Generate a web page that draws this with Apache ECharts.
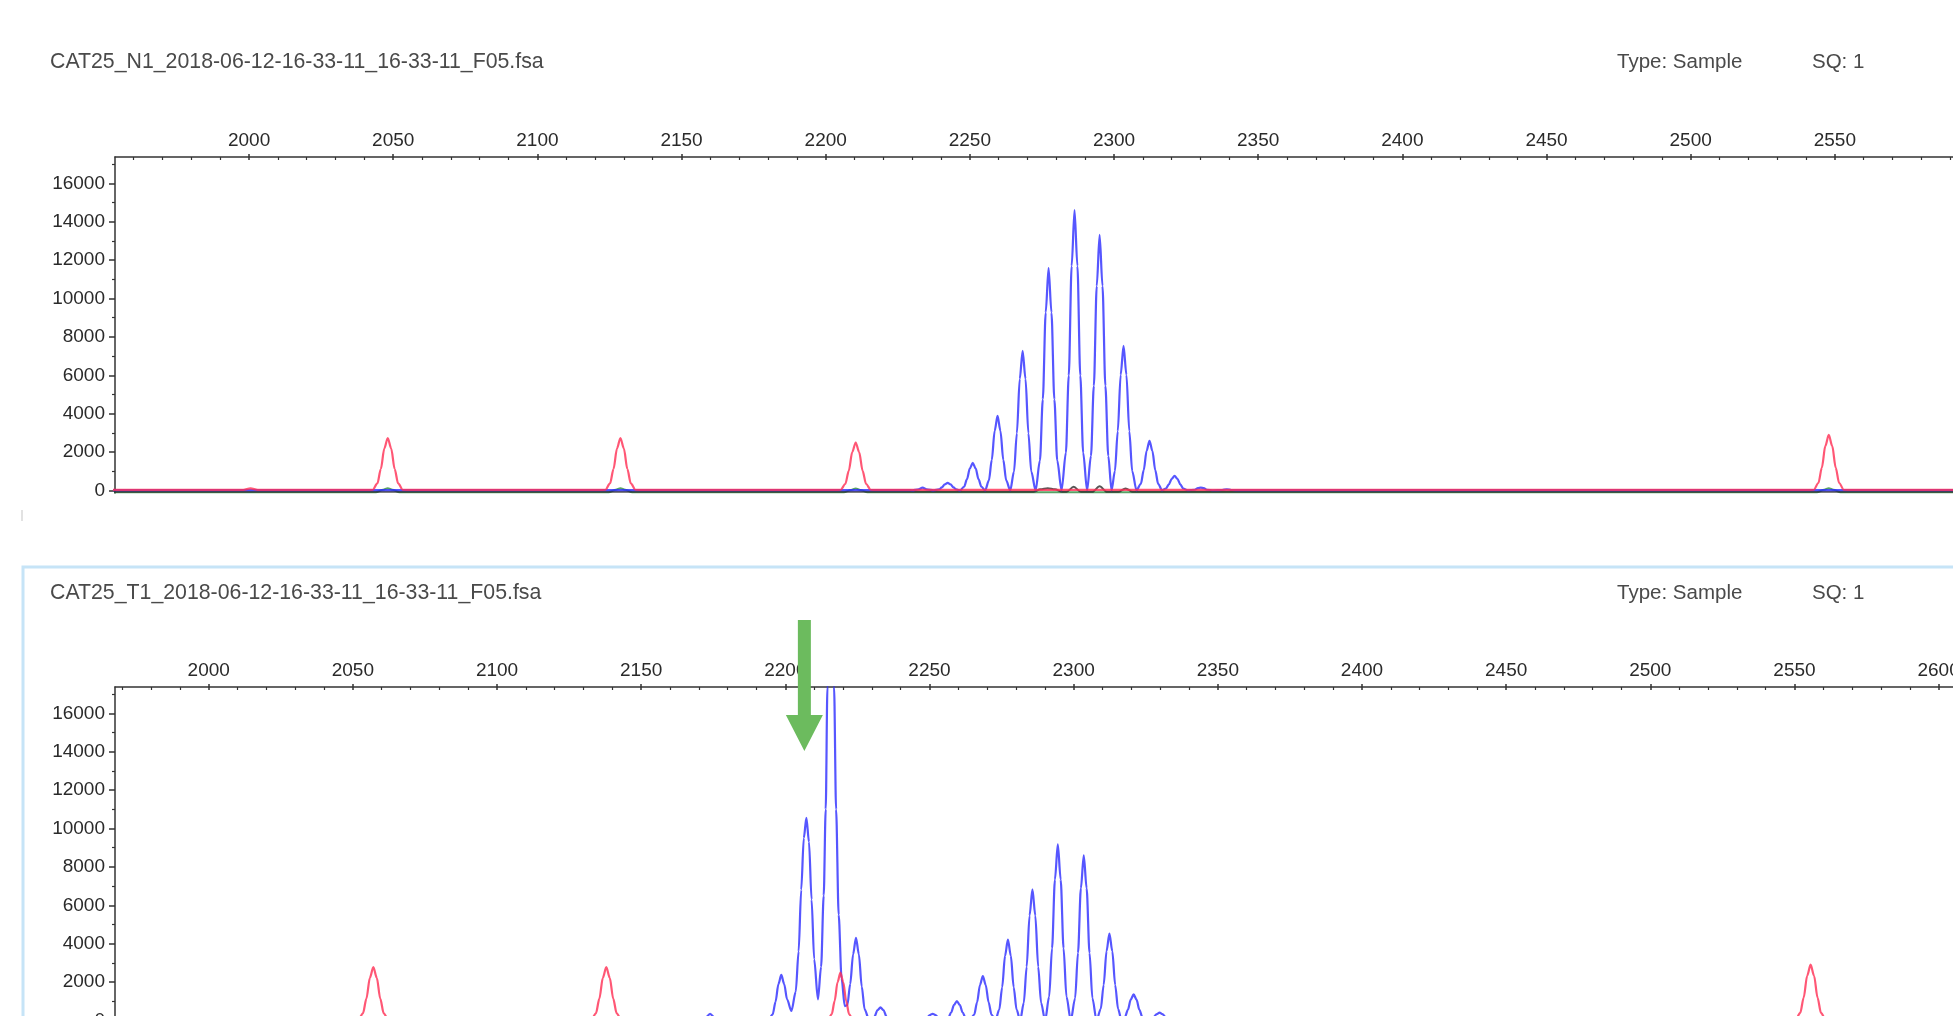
<!DOCTYPE html>
<html><head><meta charset="utf-8">
<script src="https://cdn.jsdelivr.net/npm/echarts@6/dist/echarts.min.js"></script>
<style>html,body{margin:0;padding:0;background:#fff;overflow:hidden}#c{width:1953px;height:1016px}</style>
</head><body><div id="c"></div><script>
// ---------- texts ----------
const topTitle = 'CAT25_N1_2018-06-12-16-33-11_16-33-11_F05.fsa';
const bottomTitle = 'CAT25_T1_2018-06-12-16-33-11_16-33-11_F05.fsa';
const typeText = 'Type: Sample';
const sqText = 'SQ: 1';

// ---------- tick values ----------
const xMajorTicks = [2000,2050,2100,2150,2200,2250,2300,2350,2400,2450,2500,2550,2600,2650];
const xLabelTicks = [2000,2050,2100,2150,2200,2250,2300,2350,2400,2450,2500,2550,2600];
const xMinorTicks = [1960,1970,1980,1990,2010,2020,2030,2040,2060,2070,2080,2090,2110,2120,2130,2140,2160,2170,2180,2190,2210,2220,2230,2240,2260,2270,2280,2290,2310,2320,2330,2340,2360,2370,2380,2390,2410,2420,2430,2440,2460,2470,2480,2490,2510,2520,2530,2540,2560,2570,2580,2590,2610,2620,2630,2640,2660];
const yMajorTicks = [0,2000,4000,6000,8000,10000,12000,14000,16000];
const yMinorTicks = [1000,3000,5000,7000,9000,11000,13000,15000,17000];

// ---------- N1 panel traces [size, RFU] ----------
const n1Blue = [[1950,25],[2228.5,20],
 [2230,10],[2232.2,60],[2233.6,150],[2235,60],[2237.5,10],
 [2239.3,55],[2240.3,165],[2241.3,320],[2242.3,400],[2243.3,320],[2244.3,165],[2245.3,55],[2246.6,5],
 [2248.0,195],[2249.0,590],[2250.0,1150],[2251.0,1440],[2252.0,1150],[2253.0,590],[2254.0,195],[2255.3,8],
 [2256.6,525],[2257.6,1595],[2258.6,3110],[2259.6,3890],[2260.6,3110],[2261.6,1595],[2262.6,525],[2264.0,10],
 [2265.3,980],[2266.3,2980],[2267.3,5815],[2268.3,7270],[2269.3,5815],[2270.3,2980],[2271.3,980],[2272.8,10],
 [2274.3,1565],[2275.3,4750],[2276.3,9270],[2277.3,11590],[2278.3,9270],[2279.3,4750],[2280.3,1565],[2281.8,10],
 [2283.3,1970],[2284.3,5990],[2285.3,11690],[2286.3,14610],[2287.3,11690],[2288.3,5990],[2289.3,1970],[2290.65,10],
 [2292.0,1800],[2293.0,5455],[2294.0,10650],[2295.0,13310],[2296.0,10650],[2297.0,5455],[2298.0,1800],[2299.15,10],
 [2300.3,1015],[2301.3,3090],[2302.3,6025],[2303.3,7530],[2304.3,6025],[2305.3,3090],[2306.3,1015],[2307.8,10],
 [2309.3,350],[2310.3,1060],[2311.3,2070],[2312.3,2590],[2313.3,2070],[2314.3,1060],[2315.3,350],[2316.65,10],
 [2318.0,105],[2319.0,315],[2320.0,610],[2321.0,765],[2322.0,610],[2323.0,315],[2324.0,105],[2325.5,12],
 [2328,40],[2329.1,120],[2330.1,150],[2331.1,120],[2332.2,40],[2334.5,12],
 [2337.5,25],[2339.1,60],[2340.7,25],[2344,15],[2660,15]];
const n1Red = [[1950,30],[1998,30],[2000.5,110],[2003,30],[2041,30],
 [2042.9,40],[2044.5,370],[2045.7,1120],[2046.9,2185],[2048.1,2730],[2049.3,2185],[2050.5,1120],[2051.7,370],[2053.3,40],[2056,30],[2121.5,30],
 [2123.6,40],[2125.2,370],[2126.4,1120],[2127.6,2185],[2128.8,2730],[2130.0,2185],[2131.2,1120],[2132.4,370],[2134.0,40],[2137,30],[2203,30],
 [2205.2,40],[2206.8,340],[2208.0,1025],[2209.2,2000],[2210.4,2500],[2211.6,2000],[2212.8,1025],[2214.0,340],[2215.6,40],[2218,30],[2540.5,30],
 [2542.7,40],[2544.3,390],[2545.5,1190],[2546.7,2320],[2547.9,2900],[2549.1,2320],[2550.3,1190],[2551.5,390],[2553.1,40],[2556,30],[2660,30]];
const n1Green = [[1950,-90],[2044,-90],[2046.5,40],[2048.1,120],[2049.7,40],[2052.2,-90],[2124.7,-90],[2127.2,40],[2128.8,120],[2130.4,40],[2132.9,-90],
 [2206.3,-90],[2208.8,30],[2210.4,100],[2212,30],[2214.5,-90],[2543.8,-90],[2546.3,40],[2547.9,120],[2549.5,40],[2552,-90],[2660,-90]];
const n1Black = [[1950,-70],[2272,-70],[2274.5,60],[2277,120],[2279.5,60],[2282,-70],[2283.5,-70],[2286,190],[2288.5,-70],
 [2292.5,-70],[2295,220],[2297.5,-70],[2301.5,-70],[2304,110],[2306.5,-70],[2660,-70]];

// ---------- T1 panel traces [size, RFU] ----------
const t1Blue = [[1960,30],[2171,30],
 [2172.2,120],[2173.9,350],[2175.6,120],[2177.5,35],[2180.5,50],[2182,130],[2183.5,50],[2188.5,40],[2190,100],[2191.5,40],[2194.2,60],
 [2195.6,320],[2196.6,975],[2197.6,1900],[2198.6,2380],[2199.6,1900],[2200.6,1100],[2202.1,495],
 [2203.6,1500],[2204.6,3600],[2205.5,6800],[2206.4,9500],[2207.3,10560],[2208.2,9300],[2209.1,6300],[2210.0,3200],[2211.3,1100],
 [2212.4,2800],[2213.3,6500],[2214.0,11000],[2214.6,17370],[2215.8,22500],[2216.9,17370],[2217.6,11000],[2218.5,5500],[2219.5,2200],[2220.6,750],
 [2221.5,800],[2222.5,1900],[2223.5,3450],[2224.5,4310],[2225.5,3450],[2226.5,1770],[2227.5,580],[2229.0,60],
 [2230.8,180],[2232.0,545],[2233.0,680],[2234.0,545],[2235.2,180],[2237.2,30],
 [2240,40],[2241.7,150],[2243.4,40],[2247.8,20],
 [2249.1,145],[2250.1,280],[2251.1,350],[2252.1,280],[2253.1,145],[2255.0,15],
 [2256.5,135],[2257.5,415],[2258.5,810],[2259.5,1010],[2260.5,810],[2261.5,415],[2262.5,135],[2264.0,10],
 [2265.5,310],[2266.5,945],[2267.5,1850],[2268.5,2310],[2269.5,1850],[2270.5,945],[2271.5,310],[2272.85,10],
 [2274.2,570],[2275.2,1730],[2276.2,3375],[2277.2,4220],[2278.2,3375],[2279.2,1730],[2280.2,570],[2281.45,10],
 [2282.7,920],[2283.7,2800],[2284.7,5465],[2285.7,6830],[2286.7,5465],[2287.7,2800],[2288.7,920],[2290.1,10],
 [2291.5,1240],[2292.5,3760],[2293.5,7335],[2294.5,9170],[2295.5,7335],[2296.5,3760],[2297.5,1240],[2299.0,10],
 [2300.5,1160],[2301.5,3525],[2302.5,6880],[2303.5,8600],[2304.5,6880],[2305.5,3525],[2306.5,1160],[2307.95,10],
 [2309.4,610],[2310.4,1850],[2311.4,3615],[2312.4,4520],[2313.4,3615],[2314.4,1850],[2315.4,610],[2316.6,10],
 [2317.8,185],[2318.8,560],[2319.8,1090],[2320.8,1360],[2321.8,1090],[2322.8,560],[2323.8,185],[2325.3,10],
 [2327.3,90],[2328.8,330],[2329.8,410],[2330.8,330],[2332.3,90],[2334.2,10],[2670,10]];
const t1Red = [[1960,30],[2050,30],
 [2051.9,40],[2053.5,375],[2054.7,1140],[2055.9,2225],[2057.1,2780],[2058.3,2225],[2059.5,1140],[2060.7,375],[2062.3,40],[2065,30],[2130.5,30],
 [2132.7,40],[2134.3,375],[2135.5,1140],[2136.7,2225],[2137.9,2780],[2139.1,2225],[2140.3,1140],[2141.5,375],[2143.1,40],[2146,30],[2212.5,30],
 [2214.8,40],[2216.1,335],[2217.1,1020],[2218.1,1990],[2219.1,2490],[2220.1,1990],[2221.1,1020],[2222.1,335],[2223.4,40],[2226,30],[2548,30],
 [2550.4,40],[2552.0,395],[2553.2,1195],[2554.4,2330],[2555.6,2910],[2556.8,2330],[2558.0,1195],[2559.2,395],[2560.8,40],[2564,30],[2670,30]];
const t1Green = [[1960,-90],[2053.5,-90],[2057.1,120],[2060.7,-90],[2134.3,-90],[2137.9,120],[2141.5,-90],
 [2215.5,-90],[2219.1,110],[2222.7,-90],[2552,-90],[2555.6,120],[2559.2,-90],[2670,-90]];
const t1Black = [[1960,-70],[2670,-70]];

// ---------- ranges ----------
const n1XRange = [1953.5, 2660];
const t1XRange = [1967.5, 2670];
const yRange = [-130, 17370];
const arrowTarget = 2206.6;

const FONT = '"Liberation Sans", Arial, Helvetica, sans-serif';
const AX = '#333333';
const PXU = 2.8832;
const fmt = function (v) { return String(v); };

function grid(top, xr) {
  return {left: 115, top: top, height: 336, width: (xr[1] - xr[0]) * PXU, outerBoundsMode: 'none', containLabel: false};
}
function xAxes(g, xr) {
  const base = {type: 'value', gridIndex: g, position: 'top', min: xr[0], max: xr[1], splitLine: {show: false}};
  return [
    Object.assign({}, base, {
      axisLine: {show: true, onZero: false, lineStyle: {color: AX, width: 1.5}},
      axisTick: {show: true, inside: false, length: 3, customValues: xMajorTicks, lineStyle: {color: AX, width: 1.5}},
      axisLabel: {show: true, customValues: xLabelTicks, formatter: fmt, margin: 7, fontSize: 19, color: '#2a2a2a', fontFamily: FONT}
    }),
    Object.assign({}, base, {
      axisLine: {show: false, onZero: false},
      axisTick: {show: true, inside: true, length: 3, customValues: xMajorTicks, lineStyle: {color: AX, width: 1.5}},
      axisLabel: {show: false}
    }),
    Object.assign({}, base, {
      axisLine: {show: false, onZero: false},
      axisTick: {show: true, inside: true, length: 3, customValues: xMinorTicks, lineStyle: {color: AX, width: 1.2}},
      axisLabel: {show: false}
    })
  ];
}
function yAxes(g) {
  const base = {type: 'value', gridIndex: g, position: 'left', min: yRange[0], max: yRange[1], splitLine: {show: false}};
  return [
    Object.assign({}, base, {
      axisLine: {show: true, onZero: false, lineStyle: {color: AX, width: 1.5}},
      axisTick: {show: true, inside: false, length: 6, customValues: yMajorTicks, lineStyle: {color: AX, width: 1.5}},
      axisLabel: {show: true, customValues: yMajorTicks, formatter: fmt, margin: 10, fontSize: 19, color: '#2a2a2a', fontFamily: FONT}
    }),
    Object.assign({}, base, {
      axisLine: {show: false, onZero: false},
      axisTick: {show: true, inside: false, length: 3, customValues: yMinorTicks, lineStyle: {color: AX, width: 1.2}},
      axisLabel: {show: false}
    })
  ];
}
function trace(data, xi, yi, color, width, opacity, z) {
  return {type: 'line', data: data, xAxisIndex: xi, yAxisIndex: yi, showSymbol: false, symbol: 'none',
    smooth: 0.3, smoothMonotone: 'x', clip: true, silent: true, z: z,
    lineStyle: {color: color, width: width, opacity: opacity}};
}

const chart = echarts.init(document.getElementById('c'), null, {renderer: 'canvas'});
const BLUE = '#2c2cff', RED = '#ff2d52', GREEN = '#2e8b3e', BLACK = '#2a2a2a';
chart.setOption({
  animation: false,
  backgroundColor: '#fff',
  grid: [grid(157, n1XRange), grid(687, t1XRange)],
  xAxis: xAxes(0, n1XRange).concat(xAxes(1, t1XRange)),
  yAxis: yAxes(0).concat(yAxes(1)),
  series: [
    trace(n1Green, 0, 0, GREEN, 2, 0.8, 2),
    trace(n1Black, 0, 0, BLACK, 2, 0.8, 3),
    trace(n1Blue, 0, 0, BLUE, 2.2, 0.8, 4),
    trace(n1Red, 0, 0, RED, 2.2, 0.8, 5),
    trace(t1Green, 3, 2, GREEN, 2, 0.8, 2),
    trace(t1Black, 3, 2, BLACK, 2, 0.8, 3),
    trace(t1Blue, 3, 2, BLUE, 2.2, 0.8, 4),
    trace(t1Red, 3, 2, RED, 2.2, 0.8, 5)
  ]
});

const ax = chart.convertToPixel({xAxisIndex: 3}, arrowTarget);
function txt(x, y, s, size) {
  return {type: 'text', x: x, y: y, silent: true, z: 10,
    style: {text: s, fill: '#4a4a4a', font: (size || 20.5) + 'px ' + FONT, textVerticalAlign: 'middle', textAlign: 'left'}};
}
chart.setOption({
  graphic: [
    {type: 'rect', silent: true, z: 0, shape: {x: 23, y: 567, width: 2100, height: 700},
      style: {fill: 'none', stroke: '#c6e4f7', lineWidth: 3}},
    {type: 'line', silent: true, z: 0, shape: {x1: 22, y1: 510, x2: 22, y2: 521},
      style: {stroke: '#e2e2e2', lineWidth: 2}},
    txt(50, 62, topTitle, 21.3),
    txt(1617, 62, typeText),
    txt(1812, 62, sqText),
    txt(50, 593, bottomTitle, 21.3),
    txt(1617, 593, typeText),
    txt(1812, 593, sqText),
    {type: 'polygon', silent: true, z: 20,
      shape: {points: [[ax - 6.5, 620], [ax + 6.5, 620], [ax + 6.5, 715], [ax + 18.5, 715], [ax, 751], [ax - 18.5, 715], [ax - 6.5, 715]]},
      style: {fill: '#6cbb5e'}}
  ]
});
</script></body></html>
